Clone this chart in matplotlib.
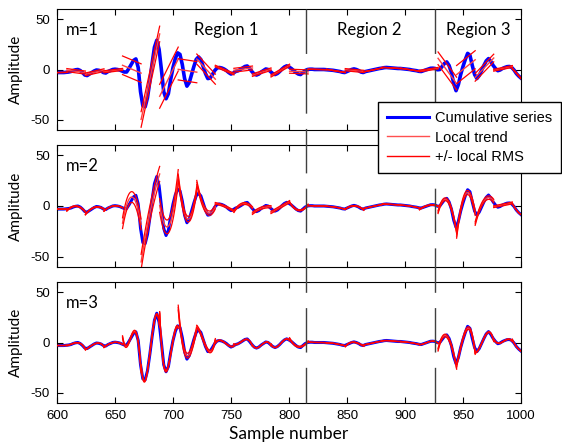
import matplotlib
matplotlib.use("Agg")
import matplotlib.pyplot as plt
from matplotlib.lines import Line2D
import numpy as np

plt.rcParams["axes.unicode_minus"] = False

# Cumulative series (every 2 samples, 600..1000)
sample = np.arange(600, 1001, 2)
amplitude = np.array([
    -3, -3, -3, -3, -2.8, -2.5, -2, -1, -0.3, 0,
    -1, -3, -5.5, -6, -4.5, -3, -1.5, -0.5, -0.8, -1.5,
    -3, -3.5, -2, -1, 0, 0.3, 0, -0.5, -1.5, -2.5,
    -2.5, 1, 5, 9, 10.5, 2, -22, -36, -37, -28,
    -12, 6, 22, 29, 20, 0, -22, -29, -24, -10,
    2, 11, 16.5, 15, 5, -9, -16.5, -13, -5, 3,
    10, 12.5, 10, 3, -4, -9, -8.5, -5, -1, 1.5,
    2, 1.5, 0.5, -1, -3, -4.5, -3.5, -2, -1.3, 0,
    1.5, 3, 3.5, 1, -2, -4.5, -5.5, -4.5, -2.5, -1,
    0.5, 0, -2, -4, -5, -4, -2, 0.5, 2.5, 3.6,
    2.5, 1, -1, -3, -4.5, -5, -3, -1, 0, 0.3,
    0.3, 0, 0, 0, 0, 0, -0.2, -0.5, -0.5, -0.8,
    -1.2, -1.5, -2, -2.7, -3, -2, -1, 0, 0.6, 0,
    -1, -2.5, -3, -2, -1.5, -1, -0.5, 0, 0.5, 1,
    1.3, 1.8, 2, 1.8, 1.5, 1.5, 1.2, 1, 1, 0.7,
    0.5, 0.3, 0, -0.5, -0.8, -1.2, -1.8, -2, -1.2, -0.5,
    0.3, 1.2, 1.3, 1, -0.3, 0, 3, 6, 7.5, 4,
    -3, -14, -21, -15, -5, 3, 10, 16, 14, 4,
    -5, -9, -6, -1, 4, 8.5, 10.8, 8, 4, 1,
    -1.2, -0.5, 1, 2, 2.8, 3, 2, -0.5, -4, -6.5,
    -8.5,
])

orders = [1, 2, 3]
seg_size = 16
seg_first = 657
region_bounds = [815, 926]
region_labels = ["Region 1", "Region 2", "Region 3"]
region_centers = [746, 869, 963]

W, H = 562, 446
fig = plt.figure(figsize=(W / 100, H / 100), dpi=100)

# panel boxes in pixels: (top, bottom)
boxes = [(9, 130), (145, 267), (282, 403)]
x0, x1 = 57, 521

seg_starts = np.arange(seg_first - 4 * seg_size, 1001, seg_size)

axes = []
for i, m in enumerate(orders):
    top, bot = boxes[i]
    ax = fig.add_axes([x0 / W, 1 - bot / H, (x1 - x0) / W, (bot - top) / H])
    axes.append(ax)
    lw_blue = 2.6 if m == 1 else 2.2
    ax.plot(sample, amplitude, color="#0000ff", lw=lw_blue, zorder=2)

    for s in seg_starts:
        mask = (sample >= s) & (sample < s + seg_size)
        if mask.sum() < m + 1:
            continue
        p = np.polyfit(sample[mask], amplitude[mask], m)
        rms = np.sqrt(np.mean((amplitude[mask] - np.polyval(p, sample[mask])) ** 2))
        xs = np.linspace(s - 0.5, s + seg_size - 0.5, 40)
        trend = np.polyval(p, xs)
        ax.plot(xs, trend, color="#ff4040", lw=1.0, zorder=3)
        ax.plot(xs, trend + rms, color="#ff0000", lw=0.9, zorder=3)
        ax.plot(xs, trend - rms, color="#ff0000", lw=0.9, zorder=3)

    ax.set_xlim(600, 1000)
    ax.set_ylim(-60, 60)
    ax.set_yticks([-50, 0, 50])
    ax.set_xticks(np.arange(600, 1001, 50))
    ax.tick_params(direction="in", top=True, right=True, length=4,
                   labelsize=9.5, pad=5)
    for lab in ax.get_xticklabels() + ax.get_yticklabels():
        lab.set_family("Liberation Sans")
    if i < 2:
        ax.set_xticklabels([])
    ax.set_ylabel("Amplitude", fontsize=11, family="Lato", labelpad=6)
    ax.text(0.02, 0.895, f"m={m}", transform=ax.transAxes, fontsize=12,
            family="Lato", va="top", ha="left")

axes[-1].set_xlabel("Sample number", fontsize=12.5, family="Lato", labelpad=3)

for xc, lab in zip(region_centers, region_labels):
    axes[0].text(xc, 0.895, lab, transform=axes[0].get_xaxis_transform(),
                 fontsize=12, family="Lato", ha="center", va="top")

# dashed region borders spanning all panels
for xb in region_bounds:
    xp = x0 + (xb - 600) * (x1 - x0) / 400
    ln = Line2D([xp / W, xp / W], [1 - boxes[0][0] / H, 1 - boxes[2][1] / H],
                transform=fig.transFigure, color="#404040", lw=1.0)
    ln.set_dashes((32, 11))
    fig.add_artist(ln)

handles = [Line2D([], [], color="#0000ff", lw=2.2),
           Line2D([], [], color="#ff5050", lw=1),
           Line2D([], [], color="#ff0000", lw=1)]
fig.legend(handles, ["Cumulative series", "Local trend", "+/- local RMS"],
           loc="upper left", bbox_to_anchor=(378 / W, 1 - 102 / H),
           frameon=True, fancybox=False, edgecolor="black", framealpha=1,
           prop={"family": "Liberation Sans", "size": 10.5},
           handlelength=2.9, borderaxespad=0, borderpad=0.6,
           labelspacing=0.4, handletextpad=0.4)

fig.savefig("out.png", dpi=100)
